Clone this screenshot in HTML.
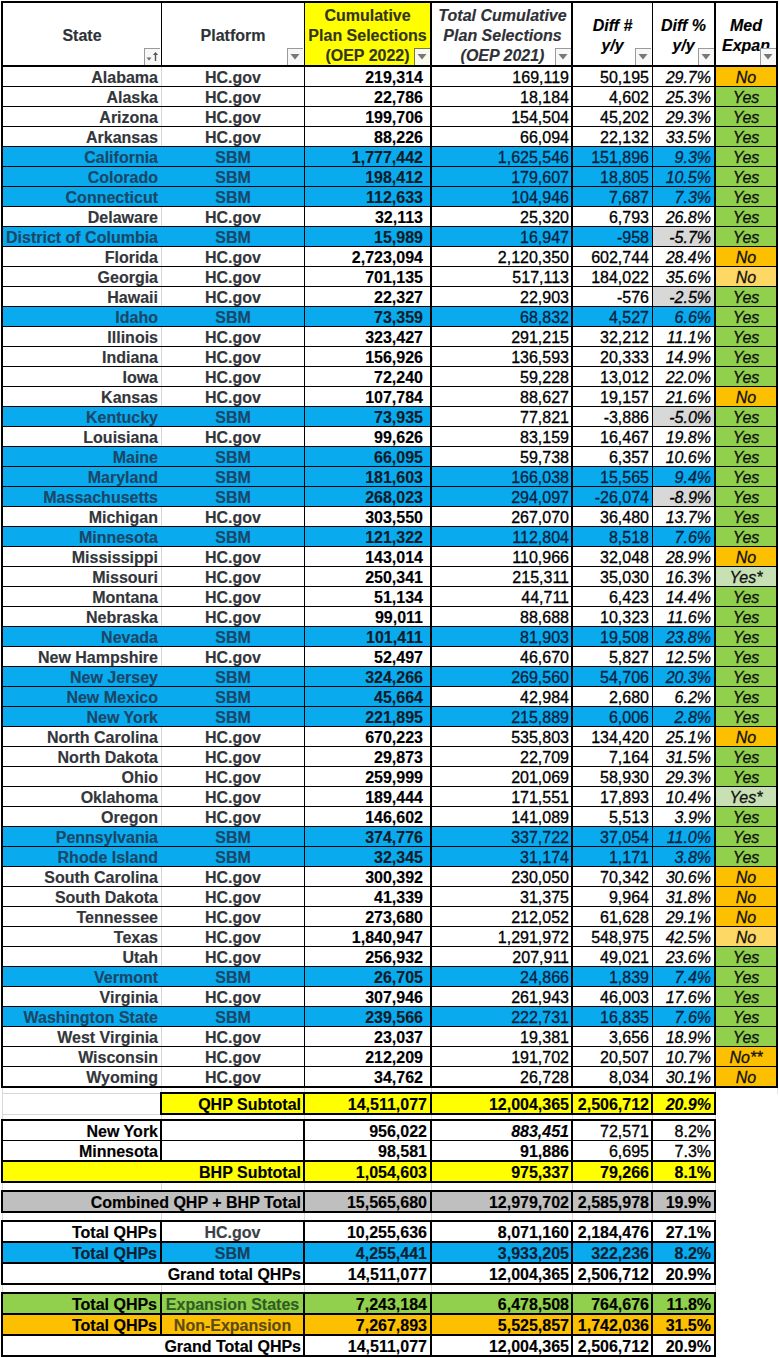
<!DOCTYPE html>
<html><head><meta charset="utf-8"><title>OEP 2022 Plan Selections</title>
<style>
html,body{margin:0;padding:0;background:#fff}
body{width:779px;height:1358px;position:relative;overflow:hidden;font-family:"Liberation Sans",sans-serif;font-size:16px;color:#000}
i{position:absolute;display:block}
b{position:absolute;display:block;font-weight:normal;font-style:normal;line-height:20px;height:20px;white-space:nowrap;overflow:visible}
b.R{text-align:right} b.C{text-align:center} b.L{text-align:left}
b{-webkit-text-stroke:0.3px currentColor} b.bd{font-weight:bold;-webkit-text-stroke:0.15px currentColor} b.it{font-style:italic}
svg{display:block}
</style></head><body>
<i style="left:305px;top:3px;width:125px;height:62px;background:#ffff00"></i>
<b class="C bd" style="left:3px;top:26px;width:158px;color:#2e3136">State</b>
<b class="C bd" style="left:162px;top:26px;width:142px;color:#2e3136">Platform</b>
<b class="C bd" style="left:305px;top:6px;width:125px;color:#34341c">Cumulative</b>
<b class="C bd" style="left:305px;top:26px;width:125px;color:#34341c">Plan Selections</b>
<b class="C bd" style="left:305px;top:46px;width:125px;color:#34341c">(OEP 2022)</b>
<b class="C bd it" style="left:433px;top:6px;width:139px;color:#2f3136">Total Cumulative</b>
<b class="C bd it" style="left:433px;top:26px;width:139px;color:#2f3136">Plan Selections</b>
<b class="C bd it" style="left:433px;top:46px;width:139px;color:#2f3136">(OEP 2021)</b>
<b class="C bd it" style="left:573px;top:16px;width:79px;color:#000">Diff #</b>
<b class="C bd it" style="left:573px;top:36px;width:79px;color:#000">y/y</b>
<b class="C bd it" style="left:653px;top:16px;width:61px;color:#000">Diff %</b>
<b class="C bd it" style="left:653px;top:36px;width:61px;color:#000">y/y</b>
<b class="C bd it" style="left:716px;top:16px;width:60px;color:#000">Med</b>
<b class="C bd it" style="left:716px;top:36px;width:60px;color:#000">Expan</b>
<i style="left:144px;top:48px;width:15px;height:16px;background:#f7f7f7;border-left:1px solid #9a9a9a;border-top:1px solid #9a9a9a"></i>
<svg style="position:absolute;left:144px;top:48px" width="16" height="17"><path d="M2.5 9.5h5l-2.5 3z" fill="#6a6a6a"/><path d="M11.5 4l-2.6 3h1.9v6h1.4v-6h1.9z" fill="#555"/></svg>
<i style="left:287px;top:48px;width:15px;height:16px;background:#f7f7f7;border-left:1px solid #9a9a9a;border-top:1px solid #9a9a9a"></i>
<svg style="position:absolute;left:287px;top:48px" width="16" height="17"><path d="M3.5 6h9l-4.5 5.5z" fill="#777"/></svg>
<i style="left:414px;top:48px;width:15px;height:16px;background:#f9f9f0;border-left:1px solid #7a7a3a;border-top:1px solid #7a7a3a"></i>
<svg style="position:absolute;left:414px;top:48px" width="16" height="17"><path d="M3.5 6h9l-4.5 5.5z" fill="#777"/></svg>
<i style="left:555px;top:48px;width:15px;height:16px;background:#f7f7f7;border-left:1px solid #9a9a9a;border-top:1px solid #9a9a9a"></i>
<svg style="position:absolute;left:555px;top:48px" width="16" height="17"><path d="M3.5 6h9l-4.5 5.5z" fill="#777"/></svg>
<i style="left:635px;top:48px;width:15px;height:16px;background:#f7f7f7;border-left:1px solid #9a9a9a;border-top:1px solid #9a9a9a"></i>
<svg style="position:absolute;left:635px;top:48px" width="16" height="17"><path d="M3.5 6h9l-4.5 5.5z" fill="#777"/></svg>
<i style="left:698px;top:48px;width:15px;height:16px;background:#f7f7f7;border-left:1px solid #9a9a9a;border-top:1px solid #9a9a9a"></i>
<svg style="position:absolute;left:698px;top:48px" width="16" height="17"><path d="M3.5 6h9l-4.5 5.5z" fill="#777"/></svg>
<i style="left:760px;top:48px;width:15px;height:16px;background:#f7f7f7;border-left:1px solid #9a9a9a;border-top:1px solid #9a9a9a"></i>
<svg style="position:absolute;left:760px;top:48px" width="16" height="17"><path d="M3.5 6h9l-4.5 5.5z" fill="#777"/></svg>
<i style="left:161px;top:67px;width:1px;height:19px;background:#d6d6d6"></i>
<i style="left:716px;top:67px;width:60px;height:19px;background:#fdc000"></i>
<b class="R bd" style="left:3px;top:68px;width:155px;color:#33363b">Alabama</b>
<b class="C bd" style="left:162px;top:68px;width:142px;color:#33363b">HC.gov</b>
<b class="R bd" style="left:305px;top:68px;width:118px;color:#000">219,314</b>
<b class="R" style="left:432px;top:68px;width:137px;color:#000">169,119</b>
<b class="R" style="left:573px;top:68px;width:76px;color:#000">50,195</b>
<b class="R it" style="left:653px;top:68px;width:58px;color:#000">29.7%</b>
<b class="C it" style="left:716px;top:68px;width:60px;color:#111">No</b>
<i style="left:161px;top:87px;width:1px;height:19px;background:#d6d6d6"></i>
<i style="left:716px;top:87px;width:60px;height:19px;background:#91d04c"></i>
<b class="R bd" style="left:3px;top:88px;width:155px;color:#33363b">Alaska</b>
<b class="C bd" style="left:162px;top:88px;width:142px;color:#33363b">HC.gov</b>
<b class="R bd" style="left:305px;top:88px;width:118px;color:#000">22,786</b>
<b class="R" style="left:432px;top:88px;width:137px;color:#000">18,184</b>
<b class="R" style="left:573px;top:88px;width:76px;color:#000">4,602</b>
<b class="R it" style="left:653px;top:88px;width:58px;color:#000">25.3%</b>
<b class="C it" style="left:716px;top:88px;width:60px;color:#111">Yes</b>
<i style="left:161px;top:107px;width:1px;height:19px;background:#d6d6d6"></i>
<i style="left:716px;top:107px;width:60px;height:19px;background:#91d04c"></i>
<b class="R bd" style="left:3px;top:108px;width:155px;color:#33363b">Arizona</b>
<b class="C bd" style="left:162px;top:108px;width:142px;color:#33363b">HC.gov</b>
<b class="R bd" style="left:305px;top:108px;width:118px;color:#000">199,706</b>
<b class="R" style="left:432px;top:108px;width:137px;color:#000">154,504</b>
<b class="R" style="left:573px;top:108px;width:76px;color:#000">45,202</b>
<b class="R it" style="left:653px;top:108px;width:58px;color:#000">29.3%</b>
<b class="C it" style="left:716px;top:108px;width:60px;color:#111">Yes</b>
<i style="left:161px;top:127px;width:1px;height:19px;background:#d6d6d6"></i>
<i style="left:716px;top:127px;width:60px;height:19px;background:#91d04c"></i>
<b class="R bd" style="left:3px;top:128px;width:155px;color:#33363b">Arkansas</b>
<b class="C bd" style="left:162px;top:128px;width:142px;color:#33363b">HC.gov</b>
<b class="R bd" style="left:305px;top:128px;width:118px;color:#000">88,226</b>
<b class="R" style="left:432px;top:128px;width:137px;color:#000">66,094</b>
<b class="R" style="left:573px;top:128px;width:76px;color:#000">22,132</b>
<b class="R it" style="left:653px;top:128px;width:58px;color:#000">33.5%</b>
<b class="C it" style="left:716px;top:128px;width:60px;color:#111">Yes</b>
<i style="left:3px;top:147px;width:301px;height:19px;background:#0aabee"></i>
<i style="left:305px;top:147px;width:125px;height:19px;background:#0aabee"></i>
<i style="left:432px;top:147px;width:139px;height:19px;background:#0aabee"></i>
<i style="left:573px;top:147px;width:79px;height:19px;background:#0aabee"></i>
<i style="left:653px;top:147px;width:61px;height:19px;background:#0aabee"></i>
<i style="left:716px;top:147px;width:60px;height:19px;background:#91d04c"></i>
<b class="R bd" style="left:3px;top:148px;width:155px;color:#1b4768">California</b>
<b class="C bd" style="left:162px;top:148px;width:142px;color:#1b4768">SBM</b>
<b class="R bd" style="left:305px;top:148px;width:118px;color:#101c28">1,777,442</b>
<b class="R" style="left:432px;top:148px;width:137px;color:#08223d">1,625,546</b>
<b class="R" style="left:573px;top:148px;width:76px;color:#08223d">151,896</b>
<b class="R it" style="left:653px;top:148px;width:58px;color:#08223d">9.3%</b>
<b class="C it" style="left:716px;top:148px;width:60px;color:#111">Yes</b>
<i style="left:3px;top:167px;width:301px;height:19px;background:#0aabee"></i>
<i style="left:305px;top:167px;width:125px;height:19px;background:#0aabee"></i>
<i style="left:432px;top:167px;width:139px;height:19px;background:#0aabee"></i>
<i style="left:573px;top:167px;width:79px;height:19px;background:#0aabee"></i>
<i style="left:653px;top:167px;width:61px;height:19px;background:#0aabee"></i>
<i style="left:716px;top:167px;width:60px;height:19px;background:#91d04c"></i>
<b class="R bd" style="left:3px;top:168px;width:155px;color:#1b4768">Colorado</b>
<b class="C bd" style="left:162px;top:168px;width:142px;color:#1b4768">SBM</b>
<b class="R bd" style="left:305px;top:168px;width:118px;color:#101c28">198,412</b>
<b class="R" style="left:432px;top:168px;width:137px;color:#08223d">179,607</b>
<b class="R" style="left:573px;top:168px;width:76px;color:#08223d">18,805</b>
<b class="R it" style="left:653px;top:168px;width:58px;color:#08223d">10.5%</b>
<b class="C it" style="left:716px;top:168px;width:60px;color:#111">Yes</b>
<i style="left:3px;top:187px;width:301px;height:19px;background:#0aabee"></i>
<i style="left:305px;top:187px;width:125px;height:19px;background:#0aabee"></i>
<i style="left:432px;top:187px;width:139px;height:19px;background:#0aabee"></i>
<i style="left:573px;top:187px;width:79px;height:19px;background:#0aabee"></i>
<i style="left:653px;top:187px;width:61px;height:19px;background:#0aabee"></i>
<i style="left:716px;top:187px;width:60px;height:19px;background:#91d04c"></i>
<b class="R bd" style="left:3px;top:188px;width:155px;color:#1b4768">Connecticut</b>
<b class="C bd" style="left:162px;top:188px;width:142px;color:#1b4768">SBM</b>
<b class="R bd" style="left:305px;top:188px;width:118px;color:#101c28">112,633</b>
<b class="R" style="left:432px;top:188px;width:137px;color:#08223d">104,946</b>
<b class="R" style="left:573px;top:188px;width:76px;color:#08223d">7,687</b>
<b class="R it" style="left:653px;top:188px;width:58px;color:#08223d">7.3%</b>
<b class="C it" style="left:716px;top:188px;width:60px;color:#111">Yes</b>
<i style="left:161px;top:207px;width:1px;height:19px;background:#d6d6d6"></i>
<i style="left:716px;top:207px;width:60px;height:19px;background:#91d04c"></i>
<b class="R bd" style="left:3px;top:208px;width:155px;color:#33363b">Delaware</b>
<b class="C bd" style="left:162px;top:208px;width:142px;color:#33363b">HC.gov</b>
<b class="R bd" style="left:305px;top:208px;width:118px;color:#000">32,113</b>
<b class="R" style="left:432px;top:208px;width:137px;color:#000">25,320</b>
<b class="R" style="left:573px;top:208px;width:76px;color:#000">6,793</b>
<b class="R it" style="left:653px;top:208px;width:58px;color:#000">26.8%</b>
<b class="C it" style="left:716px;top:208px;width:60px;color:#111">Yes</b>
<i style="left:3px;top:227px;width:301px;height:19px;background:#0aabee"></i>
<i style="left:305px;top:227px;width:125px;height:19px;background:#0aabee"></i>
<i style="left:432px;top:227px;width:139px;height:19px;background:#0aabee"></i>
<i style="left:573px;top:227px;width:79px;height:19px;background:#0aabee"></i>
<i style="left:653px;top:227px;width:61px;height:19px;background:#0aabee"></i>
<i style="left:653px;top:227px;width:61px;height:19px;background:#d8d8d8"></i>
<i style="left:716px;top:227px;width:60px;height:19px;background:#91d04c"></i>
<b class="R bd" style="left:3px;top:228px;width:155px;color:#1b4768">District of Columbia</b>
<b class="C bd" style="left:162px;top:228px;width:142px;color:#1b4768">SBM</b>
<b class="R bd" style="left:305px;top:228px;width:118px;color:#101c28">15,989</b>
<b class="R" style="left:432px;top:228px;width:137px;color:#08223d">16,947</b>
<b class="R" style="left:573px;top:228px;width:76px;color:#08223d">-958</b>
<b class="R it" style="left:653px;top:228px;width:58px;color:#000">-5.7%</b>
<b class="C it" style="left:716px;top:228px;width:60px;color:#111">Yes</b>
<i style="left:161px;top:247px;width:1px;height:19px;background:#d6d6d6"></i>
<i style="left:716px;top:247px;width:60px;height:19px;background:#fdc000"></i>
<b class="R bd" style="left:3px;top:248px;width:155px;color:#33363b">Florida</b>
<b class="C bd" style="left:162px;top:248px;width:142px;color:#33363b">HC.gov</b>
<b class="R bd" style="left:305px;top:248px;width:118px;color:#000">2,723,094</b>
<b class="R" style="left:432px;top:248px;width:137px;color:#000">2,120,350</b>
<b class="R" style="left:573px;top:248px;width:76px;color:#000">602,744</b>
<b class="R it" style="left:653px;top:248px;width:58px;color:#000">28.4%</b>
<b class="C it" style="left:716px;top:248px;width:60px;color:#111">No</b>
<i style="left:161px;top:267px;width:1px;height:19px;background:#d6d6d6"></i>
<i style="left:716px;top:267px;width:60px;height:19px;background:#fed864"></i>
<b class="R bd" style="left:3px;top:268px;width:155px;color:#33363b">Georgia</b>
<b class="C bd" style="left:162px;top:268px;width:142px;color:#33363b">HC.gov</b>
<b class="R bd" style="left:305px;top:268px;width:118px;color:#000">701,135</b>
<b class="R" style="left:432px;top:268px;width:137px;color:#000">517,113</b>
<b class="R" style="left:573px;top:268px;width:76px;color:#000">184,022</b>
<b class="R it" style="left:653px;top:268px;width:58px;color:#000">35.6%</b>
<b class="C it" style="left:716px;top:268px;width:60px;color:#111">No</b>
<i style="left:161px;top:287px;width:1px;height:19px;background:#d6d6d6"></i>
<i style="left:653px;top:287px;width:61px;height:19px;background:#d8d8d8"></i>
<i style="left:716px;top:287px;width:60px;height:19px;background:#91d04c"></i>
<b class="R bd" style="left:3px;top:288px;width:155px;color:#33363b">Hawaii</b>
<b class="C bd" style="left:162px;top:288px;width:142px;color:#33363b">HC.gov</b>
<b class="R bd" style="left:305px;top:288px;width:118px;color:#000">22,327</b>
<b class="R" style="left:432px;top:288px;width:137px;color:#000">22,903</b>
<b class="R" style="left:573px;top:288px;width:76px;color:#000">-576</b>
<b class="R it" style="left:653px;top:288px;width:58px;color:#000">-2.5%</b>
<b class="C it" style="left:716px;top:288px;width:60px;color:#111">Yes</b>
<i style="left:3px;top:307px;width:301px;height:19px;background:#0aabee"></i>
<i style="left:305px;top:307px;width:125px;height:19px;background:#0aabee"></i>
<i style="left:432px;top:307px;width:139px;height:19px;background:#0aabee"></i>
<i style="left:573px;top:307px;width:79px;height:19px;background:#0aabee"></i>
<i style="left:653px;top:307px;width:61px;height:19px;background:#0aabee"></i>
<i style="left:716px;top:307px;width:60px;height:19px;background:#91d04c"></i>
<b class="R bd" style="left:3px;top:308px;width:155px;color:#1b4768">Idaho</b>
<b class="C bd" style="left:162px;top:308px;width:142px;color:#1b4768">SBM</b>
<b class="R bd" style="left:305px;top:308px;width:118px;color:#101c28">73,359</b>
<b class="R" style="left:432px;top:308px;width:137px;color:#08223d">68,832</b>
<b class="R" style="left:573px;top:308px;width:76px;color:#08223d">4,527</b>
<b class="R it" style="left:653px;top:308px;width:58px;color:#08223d">6.6%</b>
<b class="C it" style="left:716px;top:308px;width:60px;color:#111">Yes</b>
<i style="left:161px;top:327px;width:1px;height:19px;background:#d6d6d6"></i>
<i style="left:716px;top:327px;width:60px;height:19px;background:#91d04c"></i>
<b class="R bd" style="left:3px;top:328px;width:155px;color:#33363b">Illinois</b>
<b class="C bd" style="left:162px;top:328px;width:142px;color:#33363b">HC.gov</b>
<b class="R bd" style="left:305px;top:328px;width:118px;color:#000">323,427</b>
<b class="R" style="left:432px;top:328px;width:137px;color:#000">291,215</b>
<b class="R" style="left:573px;top:328px;width:76px;color:#000">32,212</b>
<b class="R it" style="left:653px;top:328px;width:58px;color:#000">11.1%</b>
<b class="C it" style="left:716px;top:328px;width:60px;color:#111">Yes</b>
<i style="left:161px;top:347px;width:1px;height:19px;background:#d6d6d6"></i>
<i style="left:716px;top:347px;width:60px;height:19px;background:#91d04c"></i>
<b class="R bd" style="left:3px;top:348px;width:155px;color:#33363b">Indiana</b>
<b class="C bd" style="left:162px;top:348px;width:142px;color:#33363b">HC.gov</b>
<b class="R bd" style="left:305px;top:348px;width:118px;color:#000">156,926</b>
<b class="R" style="left:432px;top:348px;width:137px;color:#000">136,593</b>
<b class="R" style="left:573px;top:348px;width:76px;color:#000">20,333</b>
<b class="R it" style="left:653px;top:348px;width:58px;color:#000">14.9%</b>
<b class="C it" style="left:716px;top:348px;width:60px;color:#111">Yes</b>
<i style="left:161px;top:367px;width:1px;height:19px;background:#d6d6d6"></i>
<i style="left:716px;top:367px;width:60px;height:19px;background:#91d04c"></i>
<b class="R bd" style="left:3px;top:368px;width:155px;color:#33363b">Iowa</b>
<b class="C bd" style="left:162px;top:368px;width:142px;color:#33363b">HC.gov</b>
<b class="R bd" style="left:305px;top:368px;width:118px;color:#000">72,240</b>
<b class="R" style="left:432px;top:368px;width:137px;color:#000">59,228</b>
<b class="R" style="left:573px;top:368px;width:76px;color:#000">13,012</b>
<b class="R it" style="left:653px;top:368px;width:58px;color:#000">22.0%</b>
<b class="C it" style="left:716px;top:368px;width:60px;color:#111">Yes</b>
<i style="left:161px;top:387px;width:1px;height:19px;background:#d6d6d6"></i>
<i style="left:716px;top:387px;width:60px;height:19px;background:#fdc000"></i>
<b class="R bd" style="left:3px;top:388px;width:155px;color:#33363b">Kansas</b>
<b class="C bd" style="left:162px;top:388px;width:142px;color:#33363b">HC.gov</b>
<b class="R bd" style="left:305px;top:388px;width:118px;color:#000">107,784</b>
<b class="R" style="left:432px;top:388px;width:137px;color:#000">88,627</b>
<b class="R" style="left:573px;top:388px;width:76px;color:#000">19,157</b>
<b class="R it" style="left:653px;top:388px;width:58px;color:#000">21.6%</b>
<b class="C it" style="left:716px;top:388px;width:60px;color:#111">No</b>
<i style="left:3px;top:407px;width:301px;height:19px;background:#0aabee"></i>
<i style="left:305px;top:407px;width:125px;height:19px;background:#0aabee"></i>
<i style="left:653px;top:407px;width:61px;height:19px;background:#d8d8d8"></i>
<i style="left:716px;top:407px;width:60px;height:19px;background:#91d04c"></i>
<b class="R bd" style="left:3px;top:408px;width:155px;color:#1b4768">Kentucky</b>
<b class="C bd" style="left:162px;top:408px;width:142px;color:#1b4768">SBM</b>
<b class="R bd" style="left:305px;top:408px;width:118px;color:#101c28">73,935</b>
<b class="R" style="left:432px;top:408px;width:137px;color:#000">77,821</b>
<b class="R" style="left:573px;top:408px;width:76px;color:#000">-3,886</b>
<b class="R it" style="left:653px;top:408px;width:58px;color:#000">-5.0%</b>
<b class="C it" style="left:716px;top:408px;width:60px;color:#111">Yes</b>
<i style="left:161px;top:427px;width:1px;height:19px;background:#d6d6d6"></i>
<i style="left:716px;top:427px;width:60px;height:19px;background:#91d04c"></i>
<b class="R bd" style="left:3px;top:428px;width:155px;color:#33363b">Louisiana</b>
<b class="C bd" style="left:162px;top:428px;width:142px;color:#33363b">HC.gov</b>
<b class="R bd" style="left:305px;top:428px;width:118px;color:#000">99,626</b>
<b class="R" style="left:432px;top:428px;width:137px;color:#000">83,159</b>
<b class="R" style="left:573px;top:428px;width:76px;color:#000">16,467</b>
<b class="R it" style="left:653px;top:428px;width:58px;color:#000">19.8%</b>
<b class="C it" style="left:716px;top:428px;width:60px;color:#111">Yes</b>
<i style="left:3px;top:447px;width:301px;height:19px;background:#0aabee"></i>
<i style="left:305px;top:447px;width:125px;height:19px;background:#0aabee"></i>
<i style="left:716px;top:447px;width:60px;height:19px;background:#91d04c"></i>
<b class="R bd" style="left:3px;top:448px;width:155px;color:#1b4768">Maine</b>
<b class="C bd" style="left:162px;top:448px;width:142px;color:#1b4768">SBM</b>
<b class="R bd" style="left:305px;top:448px;width:118px;color:#101c28">66,095</b>
<b class="R" style="left:432px;top:448px;width:137px;color:#000">59,738</b>
<b class="R" style="left:573px;top:448px;width:76px;color:#000">6,357</b>
<b class="R it" style="left:653px;top:448px;width:58px;color:#000">10.6%</b>
<b class="C it" style="left:716px;top:448px;width:60px;color:#111">Yes</b>
<i style="left:3px;top:467px;width:301px;height:19px;background:#0aabee"></i>
<i style="left:305px;top:467px;width:125px;height:19px;background:#0aabee"></i>
<i style="left:432px;top:467px;width:139px;height:19px;background:#0aabee"></i>
<i style="left:573px;top:467px;width:79px;height:19px;background:#0aabee"></i>
<i style="left:653px;top:467px;width:61px;height:19px;background:#0aabee"></i>
<i style="left:716px;top:467px;width:60px;height:19px;background:#91d04c"></i>
<b class="R bd" style="left:3px;top:468px;width:155px;color:#1b4768">Maryland</b>
<b class="C bd" style="left:162px;top:468px;width:142px;color:#1b4768">SBM</b>
<b class="R bd" style="left:305px;top:468px;width:118px;color:#101c28">181,603</b>
<b class="R" style="left:432px;top:468px;width:137px;color:#08223d">166,038</b>
<b class="R" style="left:573px;top:468px;width:76px;color:#08223d">15,565</b>
<b class="R it" style="left:653px;top:468px;width:58px;color:#08223d">9.4%</b>
<b class="C it" style="left:716px;top:468px;width:60px;color:#111">Yes</b>
<i style="left:3px;top:487px;width:301px;height:19px;background:#0aabee"></i>
<i style="left:305px;top:487px;width:125px;height:19px;background:#0aabee"></i>
<i style="left:432px;top:487px;width:139px;height:19px;background:#0aabee"></i>
<i style="left:573px;top:487px;width:79px;height:19px;background:#0aabee"></i>
<i style="left:653px;top:487px;width:61px;height:19px;background:#0aabee"></i>
<i style="left:653px;top:487px;width:61px;height:19px;background:#d8d8d8"></i>
<i style="left:716px;top:487px;width:60px;height:19px;background:#91d04c"></i>
<b class="R bd" style="left:3px;top:488px;width:155px;color:#1b4768">Massachusetts</b>
<b class="C bd" style="left:162px;top:488px;width:142px;color:#1b4768">SBM</b>
<b class="R bd" style="left:305px;top:488px;width:118px;color:#101c28">268,023</b>
<b class="R" style="left:432px;top:488px;width:137px;color:#08223d">294,097</b>
<b class="R" style="left:573px;top:488px;width:76px;color:#08223d">-26,074</b>
<b class="R it" style="left:653px;top:488px;width:58px;color:#000">-8.9%</b>
<b class="C it" style="left:716px;top:488px;width:60px;color:#111">Yes</b>
<i style="left:161px;top:507px;width:1px;height:19px;background:#d6d6d6"></i>
<i style="left:716px;top:507px;width:60px;height:19px;background:#91d04c"></i>
<b class="R bd" style="left:3px;top:508px;width:155px;color:#33363b">Michigan</b>
<b class="C bd" style="left:162px;top:508px;width:142px;color:#33363b">HC.gov</b>
<b class="R bd" style="left:305px;top:508px;width:118px;color:#000">303,550</b>
<b class="R" style="left:432px;top:508px;width:137px;color:#000">267,070</b>
<b class="R" style="left:573px;top:508px;width:76px;color:#000">36,480</b>
<b class="R it" style="left:653px;top:508px;width:58px;color:#000">13.7%</b>
<b class="C it" style="left:716px;top:508px;width:60px;color:#111">Yes</b>
<i style="left:3px;top:527px;width:301px;height:19px;background:#0aabee"></i>
<i style="left:305px;top:527px;width:125px;height:19px;background:#0aabee"></i>
<i style="left:432px;top:527px;width:139px;height:19px;background:#0aabee"></i>
<i style="left:573px;top:527px;width:79px;height:19px;background:#0aabee"></i>
<i style="left:653px;top:527px;width:61px;height:19px;background:#0aabee"></i>
<i style="left:716px;top:527px;width:60px;height:19px;background:#91d04c"></i>
<b class="R bd" style="left:3px;top:528px;width:155px;color:#1b4768">Minnesota</b>
<b class="C bd" style="left:162px;top:528px;width:142px;color:#1b4768">SBM</b>
<b class="R bd" style="left:305px;top:528px;width:118px;color:#101c28">121,322</b>
<b class="R" style="left:432px;top:528px;width:137px;color:#08223d">112,804</b>
<b class="R" style="left:573px;top:528px;width:76px;color:#08223d">8,518</b>
<b class="R it" style="left:653px;top:528px;width:58px;color:#08223d">7.6%</b>
<b class="C it" style="left:716px;top:528px;width:60px;color:#111">Yes</b>
<i style="left:161px;top:547px;width:1px;height:19px;background:#d6d6d6"></i>
<i style="left:716px;top:547px;width:60px;height:19px;background:#fdc000"></i>
<b class="R bd" style="left:3px;top:548px;width:155px;color:#33363b">Mississippi</b>
<b class="C bd" style="left:162px;top:548px;width:142px;color:#33363b">HC.gov</b>
<b class="R bd" style="left:305px;top:548px;width:118px;color:#000">143,014</b>
<b class="R" style="left:432px;top:548px;width:137px;color:#000">110,966</b>
<b class="R" style="left:573px;top:548px;width:76px;color:#000">32,048</b>
<b class="R it" style="left:653px;top:548px;width:58px;color:#000">28.9%</b>
<b class="C it" style="left:716px;top:548px;width:60px;color:#111">No</b>
<i style="left:161px;top:567px;width:1px;height:19px;background:#d6d6d6"></i>
<i style="left:716px;top:567px;width:60px;height:19px;background:#c8e1b4"></i>
<b class="R bd" style="left:3px;top:568px;width:155px;color:#33363b">Missouri</b>
<b class="C bd" style="left:162px;top:568px;width:142px;color:#33363b">HC.gov</b>
<b class="R bd" style="left:305px;top:568px;width:118px;color:#000">250,341</b>
<b class="R" style="left:432px;top:568px;width:137px;color:#000">215,311</b>
<b class="R" style="left:573px;top:568px;width:76px;color:#000">35,030</b>
<b class="R it" style="left:653px;top:568px;width:58px;color:#000">16.3%</b>
<b class="C it" style="left:716px;top:568px;width:60px;color:#111">Yes*</b>
<i style="left:161px;top:587px;width:1px;height:19px;background:#d6d6d6"></i>
<i style="left:716px;top:587px;width:60px;height:19px;background:#91d04c"></i>
<b class="R bd" style="left:3px;top:588px;width:155px;color:#33363b">Montana</b>
<b class="C bd" style="left:162px;top:588px;width:142px;color:#33363b">HC.gov</b>
<b class="R bd" style="left:305px;top:588px;width:118px;color:#000">51,134</b>
<b class="R" style="left:432px;top:588px;width:137px;color:#000">44,711</b>
<b class="R" style="left:573px;top:588px;width:76px;color:#000">6,423</b>
<b class="R it" style="left:653px;top:588px;width:58px;color:#000">14.4%</b>
<b class="C it" style="left:716px;top:588px;width:60px;color:#111">Yes</b>
<i style="left:161px;top:607px;width:1px;height:19px;background:#d6d6d6"></i>
<i style="left:716px;top:607px;width:60px;height:19px;background:#91d04c"></i>
<b class="R bd" style="left:3px;top:608px;width:155px;color:#33363b">Nebraska</b>
<b class="C bd" style="left:162px;top:608px;width:142px;color:#33363b">HC.gov</b>
<b class="R bd" style="left:305px;top:608px;width:118px;color:#000">99,011</b>
<b class="R" style="left:432px;top:608px;width:137px;color:#000">88,688</b>
<b class="R" style="left:573px;top:608px;width:76px;color:#000">10,323</b>
<b class="R it" style="left:653px;top:608px;width:58px;color:#000">11.6%</b>
<b class="C it" style="left:716px;top:608px;width:60px;color:#111">Yes</b>
<i style="left:3px;top:627px;width:301px;height:19px;background:#0aabee"></i>
<i style="left:305px;top:627px;width:125px;height:19px;background:#0aabee"></i>
<i style="left:432px;top:627px;width:139px;height:19px;background:#0aabee"></i>
<i style="left:573px;top:627px;width:79px;height:19px;background:#0aabee"></i>
<i style="left:653px;top:627px;width:61px;height:19px;background:#0aabee"></i>
<i style="left:716px;top:627px;width:60px;height:19px;background:#91d04c"></i>
<b class="R bd" style="left:3px;top:628px;width:155px;color:#1b4768">Nevada</b>
<b class="C bd" style="left:162px;top:628px;width:142px;color:#1b4768">SBM</b>
<b class="R bd" style="left:305px;top:628px;width:118px;color:#101c28">101,411</b>
<b class="R" style="left:432px;top:628px;width:137px;color:#08223d">81,903</b>
<b class="R" style="left:573px;top:628px;width:76px;color:#08223d">19,508</b>
<b class="R it" style="left:653px;top:628px;width:58px;color:#08223d">23.8%</b>
<b class="C it" style="left:716px;top:628px;width:60px;color:#111">Yes</b>
<i style="left:161px;top:647px;width:1px;height:19px;background:#d6d6d6"></i>
<i style="left:716px;top:647px;width:60px;height:19px;background:#91d04c"></i>
<b class="R bd" style="left:3px;top:648px;width:155px;color:#33363b">New Hampshire</b>
<b class="C bd" style="left:162px;top:648px;width:142px;color:#33363b">HC.gov</b>
<b class="R bd" style="left:305px;top:648px;width:118px;color:#000">52,497</b>
<b class="R" style="left:432px;top:648px;width:137px;color:#000">46,670</b>
<b class="R" style="left:573px;top:648px;width:76px;color:#000">5,827</b>
<b class="R it" style="left:653px;top:648px;width:58px;color:#000">12.5%</b>
<b class="C it" style="left:716px;top:648px;width:60px;color:#111">Yes</b>
<i style="left:3px;top:667px;width:301px;height:19px;background:#0aabee"></i>
<i style="left:305px;top:667px;width:125px;height:19px;background:#0aabee"></i>
<i style="left:432px;top:667px;width:139px;height:19px;background:#0aabee"></i>
<i style="left:573px;top:667px;width:79px;height:19px;background:#0aabee"></i>
<i style="left:653px;top:667px;width:61px;height:19px;background:#0aabee"></i>
<i style="left:716px;top:667px;width:60px;height:19px;background:#91d04c"></i>
<b class="R bd" style="left:3px;top:668px;width:155px;color:#1b4768">New Jersey</b>
<b class="C bd" style="left:162px;top:668px;width:142px;color:#1b4768">SBM</b>
<b class="R bd" style="left:305px;top:668px;width:118px;color:#101c28">324,266</b>
<b class="R" style="left:432px;top:668px;width:137px;color:#08223d">269,560</b>
<b class="R" style="left:573px;top:668px;width:76px;color:#08223d">54,706</b>
<b class="R it" style="left:653px;top:668px;width:58px;color:#08223d">20.3%</b>
<b class="C it" style="left:716px;top:668px;width:60px;color:#111">Yes</b>
<i style="left:3px;top:687px;width:301px;height:19px;background:#0aabee"></i>
<i style="left:305px;top:687px;width:125px;height:19px;background:#0aabee"></i>
<i style="left:716px;top:687px;width:60px;height:19px;background:#91d04c"></i>
<b class="R bd" style="left:3px;top:688px;width:155px;color:#1b4768">New Mexico</b>
<b class="C bd" style="left:162px;top:688px;width:142px;color:#1b4768">SBM</b>
<b class="R bd" style="left:305px;top:688px;width:118px;color:#101c28">45,664</b>
<b class="R" style="left:432px;top:688px;width:137px;color:#000">42,984</b>
<b class="R" style="left:573px;top:688px;width:76px;color:#000">2,680</b>
<b class="R it" style="left:653px;top:688px;width:58px;color:#000">6.2%</b>
<b class="C it" style="left:716px;top:688px;width:60px;color:#111">Yes</b>
<i style="left:3px;top:707px;width:301px;height:19px;background:#0aabee"></i>
<i style="left:305px;top:707px;width:125px;height:19px;background:#0aabee"></i>
<i style="left:432px;top:707px;width:139px;height:19px;background:#0aabee"></i>
<i style="left:573px;top:707px;width:79px;height:19px;background:#0aabee"></i>
<i style="left:653px;top:707px;width:61px;height:19px;background:#0aabee"></i>
<i style="left:716px;top:707px;width:60px;height:19px;background:#91d04c"></i>
<b class="R bd" style="left:3px;top:708px;width:155px;color:#1b4768">New York</b>
<b class="C bd" style="left:162px;top:708px;width:142px;color:#1b4768">SBM</b>
<b class="R bd" style="left:305px;top:708px;width:118px;color:#101c28">221,895</b>
<b class="R" style="left:432px;top:708px;width:137px;color:#08223d">215,889</b>
<b class="R" style="left:573px;top:708px;width:76px;color:#08223d">6,006</b>
<b class="R it" style="left:653px;top:708px;width:58px;color:#08223d">2.8%</b>
<b class="C it" style="left:716px;top:708px;width:60px;color:#111">Yes</b>
<i style="left:161px;top:727px;width:1px;height:19px;background:#d6d6d6"></i>
<i style="left:716px;top:727px;width:60px;height:19px;background:#fdc000"></i>
<b class="R bd" style="left:3px;top:728px;width:155px;color:#33363b">North Carolina</b>
<b class="C bd" style="left:162px;top:728px;width:142px;color:#33363b">HC.gov</b>
<b class="R bd" style="left:305px;top:728px;width:118px;color:#000">670,223</b>
<b class="R" style="left:432px;top:728px;width:137px;color:#000">535,803</b>
<b class="R" style="left:573px;top:728px;width:76px;color:#000">134,420</b>
<b class="R it" style="left:653px;top:728px;width:58px;color:#000">25.1%</b>
<b class="C it" style="left:716px;top:728px;width:60px;color:#111">No</b>
<i style="left:161px;top:747px;width:1px;height:19px;background:#d6d6d6"></i>
<i style="left:716px;top:747px;width:60px;height:19px;background:#91d04c"></i>
<b class="R bd" style="left:3px;top:748px;width:155px;color:#33363b">North Dakota</b>
<b class="C bd" style="left:162px;top:748px;width:142px;color:#33363b">HC.gov</b>
<b class="R bd" style="left:305px;top:748px;width:118px;color:#000">29,873</b>
<b class="R" style="left:432px;top:748px;width:137px;color:#000">22,709</b>
<b class="R" style="left:573px;top:748px;width:76px;color:#000">7,164</b>
<b class="R it" style="left:653px;top:748px;width:58px;color:#000">31.5%</b>
<b class="C it" style="left:716px;top:748px;width:60px;color:#111">Yes</b>
<i style="left:161px;top:767px;width:1px;height:19px;background:#d6d6d6"></i>
<i style="left:716px;top:767px;width:60px;height:19px;background:#91d04c"></i>
<b class="R bd" style="left:3px;top:768px;width:155px;color:#33363b">Ohio</b>
<b class="C bd" style="left:162px;top:768px;width:142px;color:#33363b">HC.gov</b>
<b class="R bd" style="left:305px;top:768px;width:118px;color:#000">259,999</b>
<b class="R" style="left:432px;top:768px;width:137px;color:#000">201,069</b>
<b class="R" style="left:573px;top:768px;width:76px;color:#000">58,930</b>
<b class="R it" style="left:653px;top:768px;width:58px;color:#000">29.3%</b>
<b class="C it" style="left:716px;top:768px;width:60px;color:#111">Yes</b>
<i style="left:161px;top:787px;width:1px;height:19px;background:#d6d6d6"></i>
<i style="left:716px;top:787px;width:60px;height:19px;background:#c8e1b4"></i>
<b class="R bd" style="left:3px;top:788px;width:155px;color:#33363b">Oklahoma</b>
<b class="C bd" style="left:162px;top:788px;width:142px;color:#33363b">HC.gov</b>
<b class="R bd" style="left:305px;top:788px;width:118px;color:#000">189,444</b>
<b class="R" style="left:432px;top:788px;width:137px;color:#000">171,551</b>
<b class="R" style="left:573px;top:788px;width:76px;color:#000">17,893</b>
<b class="R it" style="left:653px;top:788px;width:58px;color:#000">10.4%</b>
<b class="C it" style="left:716px;top:788px;width:60px;color:#111">Yes*</b>
<i style="left:161px;top:807px;width:1px;height:19px;background:#d6d6d6"></i>
<i style="left:716px;top:807px;width:60px;height:19px;background:#91d04c"></i>
<b class="R bd" style="left:3px;top:808px;width:155px;color:#33363b">Oregon</b>
<b class="C bd" style="left:162px;top:808px;width:142px;color:#33363b">HC.gov</b>
<b class="R bd" style="left:305px;top:808px;width:118px;color:#000">146,602</b>
<b class="R" style="left:432px;top:808px;width:137px;color:#000">141,089</b>
<b class="R" style="left:573px;top:808px;width:76px;color:#000">5,513</b>
<b class="R it" style="left:653px;top:808px;width:58px;color:#000">3.9%</b>
<b class="C it" style="left:716px;top:808px;width:60px;color:#111">Yes</b>
<i style="left:3px;top:827px;width:301px;height:19px;background:#0aabee"></i>
<i style="left:305px;top:827px;width:125px;height:19px;background:#0aabee"></i>
<i style="left:432px;top:827px;width:139px;height:19px;background:#0aabee"></i>
<i style="left:573px;top:827px;width:79px;height:19px;background:#0aabee"></i>
<i style="left:653px;top:827px;width:61px;height:19px;background:#0aabee"></i>
<i style="left:716px;top:827px;width:60px;height:19px;background:#91d04c"></i>
<b class="R bd" style="left:3px;top:828px;width:155px;color:#1b4768">Pennsylvania</b>
<b class="C bd" style="left:162px;top:828px;width:142px;color:#1b4768">SBM</b>
<b class="R bd" style="left:305px;top:828px;width:118px;color:#101c28">374,776</b>
<b class="R" style="left:432px;top:828px;width:137px;color:#08223d">337,722</b>
<b class="R" style="left:573px;top:828px;width:76px;color:#08223d">37,054</b>
<b class="R it" style="left:653px;top:828px;width:58px;color:#08223d">11.0%</b>
<b class="C it" style="left:716px;top:828px;width:60px;color:#111">Yes</b>
<i style="left:3px;top:847px;width:301px;height:19px;background:#0aabee"></i>
<i style="left:305px;top:847px;width:125px;height:19px;background:#0aabee"></i>
<i style="left:432px;top:847px;width:139px;height:19px;background:#0aabee"></i>
<i style="left:573px;top:847px;width:79px;height:19px;background:#0aabee"></i>
<i style="left:653px;top:847px;width:61px;height:19px;background:#0aabee"></i>
<i style="left:716px;top:847px;width:60px;height:19px;background:#91d04c"></i>
<b class="R bd" style="left:3px;top:848px;width:155px;color:#1b4768">Rhode Island</b>
<b class="C bd" style="left:162px;top:848px;width:142px;color:#1b4768">SBM</b>
<b class="R bd" style="left:305px;top:848px;width:118px;color:#101c28">32,345</b>
<b class="R" style="left:432px;top:848px;width:137px;color:#08223d">31,174</b>
<b class="R" style="left:573px;top:848px;width:76px;color:#08223d">1,171</b>
<b class="R it" style="left:653px;top:848px;width:58px;color:#08223d">3.8%</b>
<b class="C it" style="left:716px;top:848px;width:60px;color:#111">Yes</b>
<i style="left:161px;top:867px;width:1px;height:19px;background:#d6d6d6"></i>
<i style="left:716px;top:867px;width:60px;height:19px;background:#fdc000"></i>
<b class="R bd" style="left:3px;top:868px;width:155px;color:#33363b">South Carolina</b>
<b class="C bd" style="left:162px;top:868px;width:142px;color:#33363b">HC.gov</b>
<b class="R bd" style="left:305px;top:868px;width:118px;color:#000">300,392</b>
<b class="R" style="left:432px;top:868px;width:137px;color:#000">230,050</b>
<b class="R" style="left:573px;top:868px;width:76px;color:#000">70,342</b>
<b class="R it" style="left:653px;top:868px;width:58px;color:#000">30.6%</b>
<b class="C it" style="left:716px;top:868px;width:60px;color:#111">No</b>
<i style="left:161px;top:887px;width:1px;height:19px;background:#d6d6d6"></i>
<i style="left:716px;top:887px;width:60px;height:19px;background:#fdc000"></i>
<b class="R bd" style="left:3px;top:888px;width:155px;color:#33363b">South Dakota</b>
<b class="C bd" style="left:162px;top:888px;width:142px;color:#33363b">HC.gov</b>
<b class="R bd" style="left:305px;top:888px;width:118px;color:#000">41,339</b>
<b class="R" style="left:432px;top:888px;width:137px;color:#000">31,375</b>
<b class="R" style="left:573px;top:888px;width:76px;color:#000">9,964</b>
<b class="R it" style="left:653px;top:888px;width:58px;color:#000">31.8%</b>
<b class="C it" style="left:716px;top:888px;width:60px;color:#111">No</b>
<i style="left:161px;top:907px;width:1px;height:19px;background:#d6d6d6"></i>
<i style="left:716px;top:907px;width:60px;height:19px;background:#fdc000"></i>
<b class="R bd" style="left:3px;top:908px;width:155px;color:#33363b">Tennessee</b>
<b class="C bd" style="left:162px;top:908px;width:142px;color:#33363b">HC.gov</b>
<b class="R bd" style="left:305px;top:908px;width:118px;color:#000">273,680</b>
<b class="R" style="left:432px;top:908px;width:137px;color:#000">212,052</b>
<b class="R" style="left:573px;top:908px;width:76px;color:#000">61,628</b>
<b class="R it" style="left:653px;top:908px;width:58px;color:#000">29.1%</b>
<b class="C it" style="left:716px;top:908px;width:60px;color:#111">No</b>
<i style="left:161px;top:927px;width:1px;height:19px;background:#d6d6d6"></i>
<i style="left:716px;top:927px;width:60px;height:19px;background:#fed864"></i>
<b class="R bd" style="left:3px;top:928px;width:155px;color:#33363b">Texas</b>
<b class="C bd" style="left:162px;top:928px;width:142px;color:#33363b">HC.gov</b>
<b class="R bd" style="left:305px;top:928px;width:118px;color:#000">1,840,947</b>
<b class="R" style="left:432px;top:928px;width:137px;color:#000">1,291,972</b>
<b class="R" style="left:573px;top:928px;width:76px;color:#000">548,975</b>
<b class="R it" style="left:653px;top:928px;width:58px;color:#000">42.5%</b>
<b class="C it" style="left:716px;top:928px;width:60px;color:#111">No</b>
<i style="left:161px;top:947px;width:1px;height:19px;background:#d6d6d6"></i>
<i style="left:716px;top:947px;width:60px;height:19px;background:#91d04c"></i>
<b class="R bd" style="left:3px;top:948px;width:155px;color:#33363b">Utah</b>
<b class="C bd" style="left:162px;top:948px;width:142px;color:#33363b">HC.gov</b>
<b class="R bd" style="left:305px;top:948px;width:118px;color:#000">256,932</b>
<b class="R" style="left:432px;top:948px;width:137px;color:#000">207,911</b>
<b class="R" style="left:573px;top:948px;width:76px;color:#000">49,021</b>
<b class="R it" style="left:653px;top:948px;width:58px;color:#000">23.6%</b>
<b class="C it" style="left:716px;top:948px;width:60px;color:#111">Yes</b>
<i style="left:3px;top:967px;width:301px;height:19px;background:#0aabee"></i>
<i style="left:305px;top:967px;width:125px;height:19px;background:#0aabee"></i>
<i style="left:432px;top:967px;width:139px;height:19px;background:#0aabee"></i>
<i style="left:573px;top:967px;width:79px;height:19px;background:#0aabee"></i>
<i style="left:653px;top:967px;width:61px;height:19px;background:#0aabee"></i>
<i style="left:716px;top:967px;width:60px;height:19px;background:#91d04c"></i>
<b class="R bd" style="left:3px;top:968px;width:155px;color:#1b4768">Vermont</b>
<b class="C bd" style="left:162px;top:968px;width:142px;color:#1b4768">SBM</b>
<b class="R bd" style="left:305px;top:968px;width:118px;color:#101c28">26,705</b>
<b class="R" style="left:432px;top:968px;width:137px;color:#08223d">24,866</b>
<b class="R" style="left:573px;top:968px;width:76px;color:#08223d">1,839</b>
<b class="R it" style="left:653px;top:968px;width:58px;color:#08223d">7.4%</b>
<b class="C it" style="left:716px;top:968px;width:60px;color:#111">Yes</b>
<i style="left:161px;top:987px;width:1px;height:19px;background:#d6d6d6"></i>
<i style="left:716px;top:987px;width:60px;height:19px;background:#91d04c"></i>
<b class="R bd" style="left:3px;top:988px;width:155px;color:#33363b">Virginia</b>
<b class="C bd" style="left:162px;top:988px;width:142px;color:#33363b">HC.gov</b>
<b class="R bd" style="left:305px;top:988px;width:118px;color:#000">307,946</b>
<b class="R" style="left:432px;top:988px;width:137px;color:#000">261,943</b>
<b class="R" style="left:573px;top:988px;width:76px;color:#000">46,003</b>
<b class="R it" style="left:653px;top:988px;width:58px;color:#000">17.6%</b>
<b class="C it" style="left:716px;top:988px;width:60px;color:#111">Yes</b>
<i style="left:3px;top:1007px;width:301px;height:19px;background:#0aabee"></i>
<i style="left:305px;top:1007px;width:125px;height:19px;background:#0aabee"></i>
<i style="left:432px;top:1007px;width:139px;height:19px;background:#0aabee"></i>
<i style="left:573px;top:1007px;width:79px;height:19px;background:#0aabee"></i>
<i style="left:653px;top:1007px;width:61px;height:19px;background:#0aabee"></i>
<i style="left:716px;top:1007px;width:60px;height:19px;background:#91d04c"></i>
<b class="R bd" style="left:3px;top:1008px;width:155px;color:#1b4768">Washington State</b>
<b class="C bd" style="left:162px;top:1008px;width:142px;color:#1b4768">SBM</b>
<b class="R bd" style="left:305px;top:1008px;width:118px;color:#101c28">239,566</b>
<b class="R" style="left:432px;top:1008px;width:137px;color:#08223d">222,731</b>
<b class="R" style="left:573px;top:1008px;width:76px;color:#08223d">16,835</b>
<b class="R it" style="left:653px;top:1008px;width:58px;color:#08223d">7.6%</b>
<b class="C it" style="left:716px;top:1008px;width:60px;color:#111">Yes</b>
<i style="left:161px;top:1027px;width:1px;height:19px;background:#d6d6d6"></i>
<i style="left:716px;top:1027px;width:60px;height:19px;background:#91d04c"></i>
<b class="R bd" style="left:3px;top:1028px;width:155px;color:#33363b">West Virginia</b>
<b class="C bd" style="left:162px;top:1028px;width:142px;color:#33363b">HC.gov</b>
<b class="R bd" style="left:305px;top:1028px;width:118px;color:#000">23,037</b>
<b class="R" style="left:432px;top:1028px;width:137px;color:#000">19,381</b>
<b class="R" style="left:573px;top:1028px;width:76px;color:#000">3,656</b>
<b class="R it" style="left:653px;top:1028px;width:58px;color:#000">18.9%</b>
<b class="C it" style="left:716px;top:1028px;width:60px;color:#111">Yes</b>
<i style="left:161px;top:1047px;width:1px;height:19px;background:#d6d6d6"></i>
<i style="left:716px;top:1047px;width:60px;height:19px;background:#fdc000"></i>
<b class="R bd" style="left:3px;top:1048px;width:155px;color:#33363b">Wisconsin</b>
<b class="C bd" style="left:162px;top:1048px;width:142px;color:#33363b">HC.gov</b>
<b class="R bd" style="left:305px;top:1048px;width:118px;color:#000">212,209</b>
<b class="R" style="left:432px;top:1048px;width:137px;color:#000">191,702</b>
<b class="R" style="left:573px;top:1048px;width:76px;color:#000">20,507</b>
<b class="R it" style="left:653px;top:1048px;width:58px;color:#000">10.7%</b>
<b class="C it" style="left:716px;top:1048px;width:60px;color:#111">No**</b>
<i style="left:161px;top:1067px;width:1px;height:19px;background:#d6d6d6"></i>
<i style="left:716px;top:1067px;width:60px;height:19px;background:#fdc000"></i>
<b class="R bd" style="left:3px;top:1068px;width:155px;color:#33363b">Wyoming</b>
<b class="C bd" style="left:162px;top:1068px;width:142px;color:#33363b">HC.gov</b>
<b class="R bd" style="left:305px;top:1068px;width:118px;color:#000">34,762</b>
<b class="R" style="left:432px;top:1068px;width:137px;color:#000">26,728</b>
<b class="R" style="left:573px;top:1068px;width:76px;color:#000">8,034</b>
<b class="R it" style="left:653px;top:1068px;width:58px;color:#000">30.1%</b>
<b class="C it" style="left:716px;top:1068px;width:60px;color:#111">No</b>
<i style="left:1px;top:1px;width:777px;height:2px;background:#000"></i>
<i style="left:1px;top:1px;width:2px;height:1087px;background:#000"></i>
<i style="left:776px;top:1px;width:2px;height:1087px;background:#000"></i>
<i style="left:1px;top:65px;width:777px;height:2px;background:#000"></i>
<i style="left:1px;top:1086px;width:777px;height:2px;background:#000"></i>
<i style="left:161px;top:1px;width:1px;height:66px;background:#000"></i>
<i style="left:304px;top:1px;width:1px;height:1087px;background:#000"></i>
<i style="left:430px;top:1px;width:2px;height:1087px;background:#000"></i>
<i style="left:571px;top:1px;width:2px;height:1087px;background:#000"></i>
<i style="left:652px;top:1px;width:1px;height:1087px;background:#000"></i>
<i style="left:714px;top:1px;width:2px;height:1087px;background:#000"></i>
<i style="left:3px;top:86px;width:773px;height:1px;background:#000"></i>
<i style="left:3px;top:106px;width:773px;height:1px;background:#000"></i>
<i style="left:3px;top:126px;width:773px;height:1px;background:#000"></i>
<i style="left:3px;top:146px;width:773px;height:1px;background:#000"></i>
<i style="left:3px;top:166px;width:773px;height:1px;background:#000"></i>
<i style="left:3px;top:186px;width:773px;height:1px;background:#000"></i>
<i style="left:3px;top:206px;width:773px;height:1px;background:#000"></i>
<i style="left:3px;top:226px;width:773px;height:1px;background:#000"></i>
<i style="left:3px;top:246px;width:773px;height:1px;background:#000"></i>
<i style="left:3px;top:266px;width:773px;height:1px;background:#000"></i>
<i style="left:3px;top:286px;width:773px;height:1px;background:#000"></i>
<i style="left:3px;top:306px;width:773px;height:1px;background:#000"></i>
<i style="left:3px;top:326px;width:773px;height:1px;background:#000"></i>
<i style="left:3px;top:346px;width:773px;height:1px;background:#000"></i>
<i style="left:3px;top:366px;width:773px;height:1px;background:#000"></i>
<i style="left:3px;top:386px;width:773px;height:1px;background:#000"></i>
<i style="left:3px;top:406px;width:773px;height:1px;background:#000"></i>
<i style="left:3px;top:426px;width:773px;height:1px;background:#000"></i>
<i style="left:3px;top:446px;width:773px;height:1px;background:#000"></i>
<i style="left:3px;top:466px;width:773px;height:1px;background:#000"></i>
<i style="left:3px;top:486px;width:773px;height:1px;background:#000"></i>
<i style="left:3px;top:506px;width:773px;height:1px;background:#000"></i>
<i style="left:3px;top:526px;width:773px;height:1px;background:#000"></i>
<i style="left:3px;top:546px;width:773px;height:1px;background:#000"></i>
<i style="left:3px;top:566px;width:773px;height:1px;background:#000"></i>
<i style="left:3px;top:586px;width:773px;height:1px;background:#000"></i>
<i style="left:3px;top:606px;width:773px;height:1px;background:#000"></i>
<i style="left:3px;top:626px;width:773px;height:1px;background:#000"></i>
<i style="left:3px;top:646px;width:773px;height:1px;background:#000"></i>
<i style="left:3px;top:666px;width:773px;height:1px;background:#000"></i>
<i style="left:3px;top:686px;width:773px;height:1px;background:#000"></i>
<i style="left:3px;top:706px;width:773px;height:1px;background:#000"></i>
<i style="left:3px;top:726px;width:773px;height:1px;background:#000"></i>
<i style="left:3px;top:746px;width:773px;height:1px;background:#000"></i>
<i style="left:3px;top:766px;width:773px;height:1px;background:#000"></i>
<i style="left:3px;top:786px;width:773px;height:1px;background:#000"></i>
<i style="left:3px;top:806px;width:773px;height:1px;background:#000"></i>
<i style="left:3px;top:826px;width:773px;height:1px;background:#000"></i>
<i style="left:3px;top:846px;width:773px;height:1px;background:#000"></i>
<i style="left:3px;top:866px;width:773px;height:1px;background:#000"></i>
<i style="left:3px;top:886px;width:773px;height:1px;background:#000"></i>
<i style="left:3px;top:906px;width:773px;height:1px;background:#000"></i>
<i style="left:3px;top:926px;width:773px;height:1px;background:#000"></i>
<i style="left:3px;top:946px;width:773px;height:1px;background:#000"></i>
<i style="left:3px;top:966px;width:773px;height:1px;background:#000"></i>
<i style="left:3px;top:986px;width:773px;height:1px;background:#000"></i>
<i style="left:3px;top:1006px;width:773px;height:1px;background:#000"></i>
<i style="left:3px;top:1026px;width:773px;height:1px;background:#000"></i>
<i style="left:3px;top:1046px;width:773px;height:1px;background:#000"></i>
<i style="left:3px;top:1066px;width:773px;height:1px;background:#000"></i>
<i style="left:2px;top:1088px;width:1px;height:4px;background:#d9d9d9"></i>
<i style="left:161px;top:1088px;width:1px;height:4px;background:#d9d9d9"></i>
<i style="left:304px;top:1088px;width:1px;height:4px;background:#d9d9d9"></i>
<i style="left:431px;top:1088px;width:1px;height:4px;background:#d9d9d9"></i>
<i style="left:572px;top:1088px;width:1px;height:4px;background:#d9d9d9"></i>
<i style="left:652px;top:1088px;width:1px;height:4px;background:#d9d9d9"></i>
<i style="left:715px;top:1088px;width:1px;height:4px;background:#d9d9d9"></i>
<i style="left:2px;top:1115px;width:1px;height:4px;background:#d9d9d9"></i>
<i style="left:161px;top:1115px;width:1px;height:4px;background:#d9d9d9"></i>
<i style="left:304px;top:1115px;width:1px;height:4px;background:#d9d9d9"></i>
<i style="left:431px;top:1115px;width:1px;height:4px;background:#d9d9d9"></i>
<i style="left:572px;top:1115px;width:1px;height:4px;background:#d9d9d9"></i>
<i style="left:652px;top:1115px;width:1px;height:4px;background:#d9d9d9"></i>
<i style="left:715px;top:1115px;width:1px;height:4px;background:#d9d9d9"></i>
<i style="left:2px;top:1183px;width:1px;height:7px;background:#d9d9d9"></i>
<i style="left:161px;top:1183px;width:1px;height:7px;background:#d9d9d9"></i>
<i style="left:304px;top:1183px;width:1px;height:7px;background:#d9d9d9"></i>
<i style="left:431px;top:1183px;width:1px;height:7px;background:#d9d9d9"></i>
<i style="left:572px;top:1183px;width:1px;height:7px;background:#d9d9d9"></i>
<i style="left:652px;top:1183px;width:1px;height:7px;background:#d9d9d9"></i>
<i style="left:715px;top:1183px;width:1px;height:7px;background:#d9d9d9"></i>
<i style="left:2px;top:1213px;width:1px;height:7px;background:#d9d9d9"></i>
<i style="left:161px;top:1213px;width:1px;height:7px;background:#d9d9d9"></i>
<i style="left:304px;top:1213px;width:1px;height:7px;background:#d9d9d9"></i>
<i style="left:431px;top:1213px;width:1px;height:7px;background:#d9d9d9"></i>
<i style="left:572px;top:1213px;width:1px;height:7px;background:#d9d9d9"></i>
<i style="left:652px;top:1213px;width:1px;height:7px;background:#d9d9d9"></i>
<i style="left:715px;top:1213px;width:1px;height:7px;background:#d9d9d9"></i>
<i style="left:2px;top:1285px;width:1px;height:7px;background:#d9d9d9"></i>
<i style="left:161px;top:1285px;width:1px;height:7px;background:#d9d9d9"></i>
<i style="left:304px;top:1285px;width:1px;height:7px;background:#d9d9d9"></i>
<i style="left:431px;top:1285px;width:1px;height:7px;background:#d9d9d9"></i>
<i style="left:572px;top:1285px;width:1px;height:7px;background:#d9d9d9"></i>
<i style="left:652px;top:1285px;width:1px;height:7px;background:#d9d9d9"></i>
<i style="left:715px;top:1285px;width:1px;height:7px;background:#d9d9d9"></i>
<i style="left:3px;top:1093px;width:157px;height:1px;background:#d9d9d9"></i>
<i style="left:3px;top:1114px;width:157px;height:1px;background:#d9d9d9"></i>
<i style="left:2px;top:1092px;width:1px;height:23px;background:#d9d9d9"></i>
<i style="left:777px;top:1088px;width:1px;height:6px;background:#e6e6e6"></i>
<i style="left:162px;top:1094px;width:552px;height:19px;background:#ffff00"></i>
<i style="left:160px;top:1092px;width:556px;height:2px;background:#000"></i>
<i style="left:160px;top:1113px;width:556px;height:2px;background:#000"></i>
<i style="left:160px;top:1092px;width:2px;height:23px;background:#000"></i>
<i style="left:714px;top:1092px;width:2px;height:23px;background:#000"></i>
<i style="left:303px;top:1092px;width:2px;height:22px;background:#000"></i>
<i style="left:430px;top:1092px;width:2px;height:22px;background:#000"></i>
<i style="left:571px;top:1092px;width:2px;height:22px;background:#000"></i>
<i style="left:651px;top:1092px;width:2px;height:22px;background:#000"></i>
<b class="R bd" style="left:162px;top:1095px;width:139px;color:#000">QHP Subtotal</b>
<b class="R bd" style="left:305px;top:1095px;width:122px;color:#000">14,511,077</b>
<b class="R bd" style="left:432px;top:1095px;width:137px;color:#000">12,004,365</b>
<b class="R bd" style="left:573px;top:1095px;width:76px;color:#000">2,506,712</b>
<b class="R bd it" style="left:653px;top:1095px;width:58px;color:#000">20.9%</b>
<i style="left:3px;top:1162px;width:711px;height:19px;background:#ffff00"></i>
<i style="left:1px;top:1119px;width:715px;height:2px;background:#000"></i>
<i style="left:1px;top:1181px;width:715px;height:2px;background:#000"></i>
<i style="left:1px;top:1119px;width:2px;height:64px;background:#000"></i>
<i style="left:714px;top:1119px;width:2px;height:64px;background:#000"></i>
<i style="left:3px;top:1140px;width:711px;height:1px;background:#000"></i>
<i style="left:3px;top:1160px;width:711px;height:2px;background:#000"></i>
<i style="left:160px;top:1119px;width:2px;height:42px;background:#000"></i>
<i style="left:303px;top:1119px;width:2px;height:63px;background:#000"></i>
<i style="left:430px;top:1119px;width:2px;height:63px;background:#000"></i>
<i style="left:571px;top:1119px;width:2px;height:63px;background:#000"></i>
<i style="left:651px;top:1119px;width:2px;height:63px;background:#000"></i>
<b class="R bd" style="left:3px;top:1122px;width:155px;color:#000">New York</b>
<b class="R bd" style="left:305px;top:1122px;width:122px;color:#000">956,022</b>
<b class="R bd it" style="left:432px;top:1122px;width:137px;color:#000">883,451</b>
<b class="R" style="left:573px;top:1122px;width:76px;color:#000">72,571</b>
<b class="R" style="left:653px;top:1122px;width:58px;color:#000">8.2%</b>
<b class="R bd" style="left:3px;top:1142px;width:155px;color:#000">Minnesota</b>
<b class="R bd" style="left:305px;top:1142px;width:122px;color:#000">98,581</b>
<b class="R bd" style="left:432px;top:1142px;width:137px;color:#000">91,886</b>
<b class="R" style="left:573px;top:1142px;width:76px;color:#000">6,695</b>
<b class="R" style="left:653px;top:1142px;width:58px;color:#000">7.3%</b>
<b class="R bd" style="left:3px;top:1163px;width:298px;color:#000">BHP Subtotal</b>
<b class="R bd" style="left:305px;top:1163px;width:122px;color:#000">1,054,603</b>
<b class="R bd" style="left:432px;top:1163px;width:137px;color:#000">975,337</b>
<b class="R bd" style="left:573px;top:1163px;width:76px;color:#000">79,266</b>
<b class="R bd" style="left:653px;top:1163px;width:58px;color:#000">8.1%</b>
<i style="left:3px;top:1192px;width:711px;height:19px;background:#bfbfbf"></i>
<i style="left:1px;top:1190px;width:715px;height:2px;background:#000"></i>
<i style="left:1px;top:1211px;width:715px;height:2px;background:#000"></i>
<i style="left:1px;top:1190px;width:2px;height:23px;background:#000"></i>
<i style="left:714px;top:1190px;width:2px;height:23px;background:#000"></i>
<i style="left:303px;top:1190px;width:2px;height:22px;background:#000"></i>
<i style="left:430px;top:1190px;width:2px;height:22px;background:#000"></i>
<i style="left:571px;top:1190px;width:2px;height:22px;background:#000"></i>
<i style="left:651px;top:1190px;width:2px;height:22px;background:#000"></i>
<b class="R bd" style="left:3px;top:1193px;width:298px;color:#000">Combined QHP + BHP Total</b>
<b class="R bd" style="left:305px;top:1193px;width:122px;color:#000">15,565,680</b>
<b class="R bd" style="left:432px;top:1193px;width:137px;color:#000">12,979,702</b>
<b class="R bd" style="left:573px;top:1193px;width:76px;color:#000">2,585,978</b>
<b class="R bd" style="left:653px;top:1193px;width:58px;color:#000">19.9%</b>
<i style="left:3px;top:1243px;width:711px;height:19px;background:#0aabee"></i>
<i style="left:1px;top:1220px;width:715px;height:2px;background:#000"></i>
<i style="left:1px;top:1283px;width:715px;height:2px;background:#000"></i>
<i style="left:1px;top:1220px;width:2px;height:65px;background:#000"></i>
<i style="left:714px;top:1220px;width:2px;height:65px;background:#000"></i>
<i style="left:3px;top:1241px;width:711px;height:2px;background:#000"></i>
<i style="left:3px;top:1262px;width:711px;height:2px;background:#000"></i>
<i style="left:160px;top:1220px;width:2px;height:43px;background:#000"></i>
<i style="left:303px;top:1220px;width:2px;height:64px;background:#000"></i>
<i style="left:430px;top:1220px;width:2px;height:64px;background:#000"></i>
<i style="left:571px;top:1220px;width:2px;height:64px;background:#000"></i>
<i style="left:651px;top:1220px;width:2px;height:64px;background:#000"></i>
<b class="R bd" style="left:3px;top:1223px;width:154px;color:#000">Total QHPs</b>
<b class="C bd" style="left:162px;top:1223px;width:141px;color:#3d4046">HC.gov</b>
<b class="R bd" style="left:305px;top:1223px;width:122px;color:#000">10,255,636</b>
<b class="R bd" style="left:432px;top:1223px;width:137px;color:#000">8,071,160</b>
<b class="R bd" style="left:573px;top:1223px;width:76px;color:#000">2,184,476</b>
<b class="R bd" style="left:653px;top:1223px;width:58px;color:#000">27.1%</b>
<b class="R bd" style="left:3px;top:1244px;width:154px;color:#0c2033">Total QHPs</b>
<b class="C bd" style="left:162px;top:1244px;width:141px;color:#173f5c">SBM</b>
<b class="R bd" style="left:305px;top:1244px;width:122px;color:#0c2033">4,255,441</b>
<b class="R bd" style="left:432px;top:1244px;width:137px;color:#0c2033">3,933,205</b>
<b class="R bd" style="left:573px;top:1244px;width:76px;color:#0c2033">322,236</b>
<b class="R bd" style="left:653px;top:1244px;width:58px;color:#0c2033">8.2%</b>
<b class="R bd" style="left:3px;top:1265px;width:298px;color:#000">Grand total QHPs</b>
<b class="R bd" style="left:305px;top:1265px;width:122px;color:#000">14,511,077</b>
<b class="R bd" style="left:432px;top:1265px;width:137px;color:#000">12,004,365</b>
<b class="R bd" style="left:573px;top:1265px;width:76px;color:#000">2,506,712</b>
<b class="R bd" style="left:653px;top:1265px;width:58px;color:#000">20.9%</b>
<i style="left:3px;top:1294px;width:711px;height:19px;background:#91d04c"></i>
<i style="left:3px;top:1315px;width:711px;height:19px;background:#fdc000"></i>
<i style="left:1px;top:1292px;width:715px;height:2px;background:#000"></i>
<i style="left:1px;top:1355px;width:715px;height:2px;background:#000"></i>
<i style="left:1px;top:1292px;width:2px;height:65px;background:#000"></i>
<i style="left:714px;top:1292px;width:2px;height:65px;background:#000"></i>
<i style="left:3px;top:1313px;width:711px;height:2px;background:#000"></i>
<i style="left:3px;top:1334px;width:711px;height:2px;background:#000"></i>
<i style="left:160px;top:1292px;width:2px;height:43px;background:#000"></i>
<i style="left:303px;top:1292px;width:2px;height:64px;background:#000"></i>
<i style="left:430px;top:1292px;width:2px;height:64px;background:#000"></i>
<i style="left:571px;top:1292px;width:2px;height:64px;background:#000"></i>
<i style="left:651px;top:1292px;width:2px;height:64px;background:#000"></i>
<b class="R bd" style="left:3px;top:1295px;width:154px;color:#000">Total QHPs</b>
<b class="C bd" style="left:162px;top:1295px;width:141px;color:#2f5c24">Expansion States</b>
<b class="R bd" style="left:305px;top:1295px;width:122px;color:#000">7,243,184</b>
<b class="R bd" style="left:432px;top:1295px;width:137px;color:#000">6,478,508</b>
<b class="R bd" style="left:573px;top:1295px;width:76px;color:#000">764,676</b>
<b class="R bd" style="left:653px;top:1295px;width:58px;color:#000">11.8%</b>
<b class="R bd" style="left:3px;top:1316px;width:154px;color:#000">Total QHPs</b>
<b class="C bd" style="left:162px;top:1316px;width:141px;color:#5c4a16">Non-Expansion</b>
<b class="R bd" style="left:305px;top:1316px;width:122px;color:#000">7,267,893</b>
<b class="R bd" style="left:432px;top:1316px;width:137px;color:#000">5,525,857</b>
<b class="R bd" style="left:573px;top:1316px;width:76px;color:#000">1,742,036</b>
<b class="R bd" style="left:653px;top:1316px;width:58px;color:#000">31.5%</b>
<b class="R bd" style="left:3px;top:1337px;width:298px;color:#000">Grand Total QHPs</b>
<b class="R bd" style="left:305px;top:1337px;width:122px;color:#000">14,511,077</b>
<b class="R bd" style="left:432px;top:1337px;width:137px;color:#000">12,004,365</b>
<b class="R bd" style="left:573px;top:1337px;width:76px;color:#000">2,506,712</b>
<b class="R bd" style="left:653px;top:1337px;width:58px;color:#000">20.9%</b>
</body></html>
